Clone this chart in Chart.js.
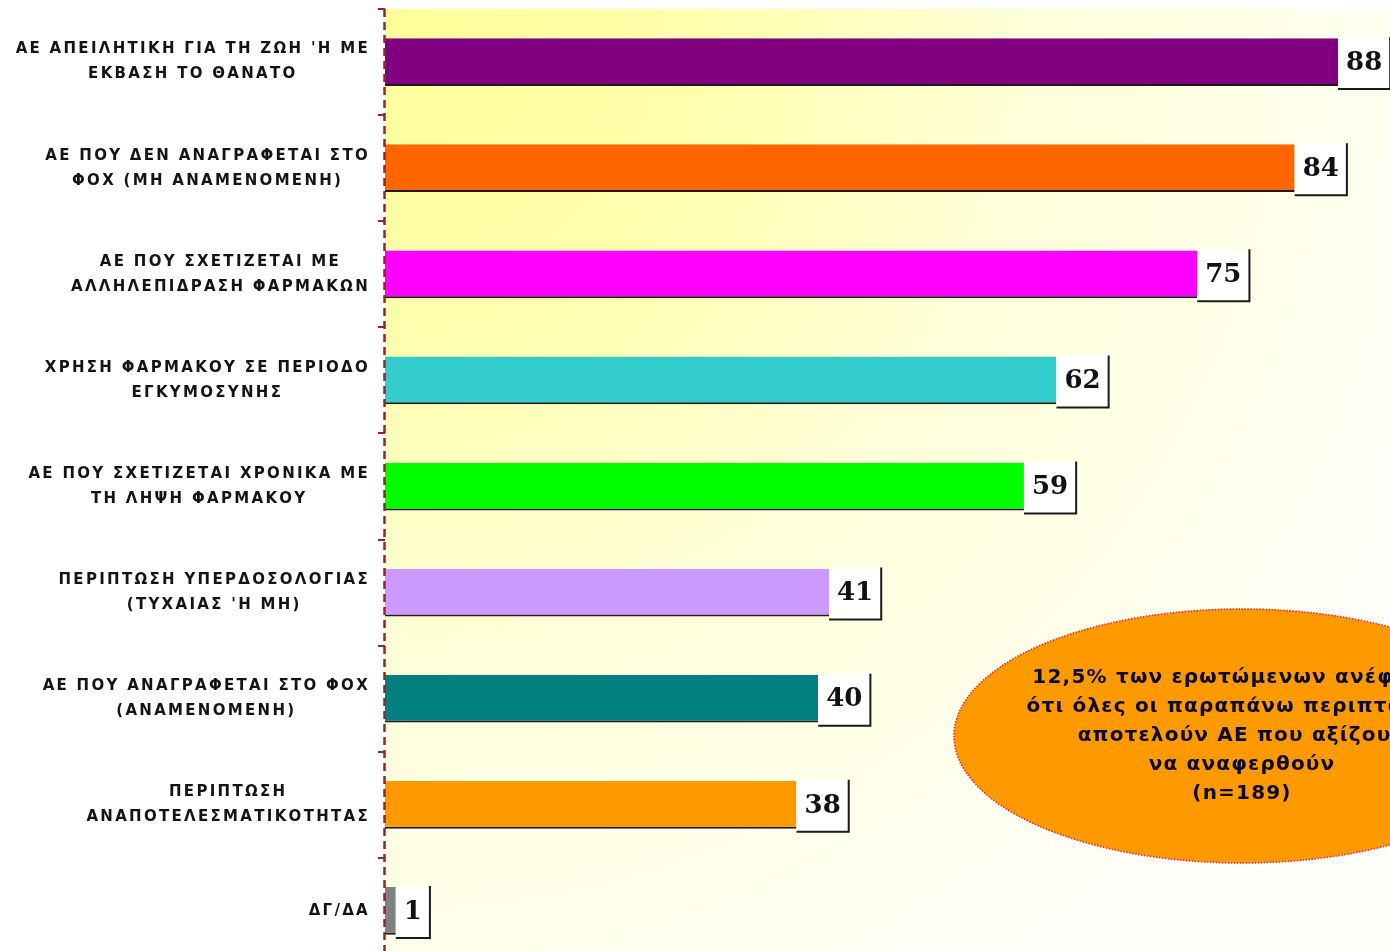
<!DOCTYPE html>
<html lang="el">
<head>
<meta charset="utf-8">
<title>Ανεπιθύμητες ενέργειες</title>
<script src="https://cdn.jsdelivr.net/npm/chart.js@4.4.1/dist/chart.umd.min.js"></script>
<style>
    html, body { margin: 0; padding: 0; background: #FFFFFF; overflow: hidden; }
    #wrap { width: 1540px; height: 966px; }
</style>
</head>
<body>
<div id="wrap"><canvas id="chart" width="1540" height="966"></canvas></div>
<script>
// ---- data ----
const categories = [
    ['ΑΕ ΑΠΕΙΛΗΤΙΚΗ ΓΙΑ ΤΗ ΖΩΗ \'Η ΜΕ', 'ΕΚΒΑΣΗ ΤΟ ΘΑΝΑΤΟ'],
    ['ΑΕ ΠΟΥ ΔΕΝ ΑΝΑΓΡΑΦΕΤΑΙ ΣΤΟ', 'ΦΟΧ (ΜΗ ΑΝΑΜΕΝΟΜΕΝΗ)'],
    ['ΑΕ ΠΟΥ ΣΧΕΤΙΖΕΤΑΙ ΜΕ', 'ΑΛΛΗΛΕΠΙΔΡΑΣΗ ΦΑΡΜΑΚΩΝ'],
    ['ΧΡΗΣΗ ΦΑΡΜΑΚΟΥ ΣΕ ΠΕΡΙΟΔΟ', 'ΕΓΚΥΜΟΣΥΝΗΣ'],
    ['ΑΕ ΠΟΥ ΣΧΕΤΙΖΕΤΑΙ ΧΡΟΝΙΚΑ ΜΕ', 'ΤΗ ΛΗΨΗ ΦΑΡΜΑΚΟΥ'],
    ['ΠΕΡΙΠΤΩΣΗ ΥΠΕΡΔΟΣΟΛΟΓΙΑΣ', '(ΤΥΧΑΙΑΣ \'Η ΜΗ)'],
    ['ΑΕ ΠΟΥ ΑΝΑΓΡΑΦΕΤΑΙ ΣΤΟ ΦΟΧ', '(ΑΝΑΜΕΝΟΜΕΝΗ)'],
    ['ΠΕΡΙΠΤΩΣΗ', 'ΑΝΑΠΟΤΕΛΕΣΜΑΤΙΚΟΤΗΤΑΣ'],
    ['ΔΓ/ΔΑ'],
];
const values = [88, 84, 75, 62, 59, 41, 40, 38, 1];
const barColors = ['#800080', '#FF6600', '#FF00FF', '#33CCCC', '#00FF00', '#CC99FF', '#008080', '#FF9900', '#808080'];
const noteLines = [
    '12,5% των ερωτώμενων ανέφεραν',
    'ότι όλες οι παραπάνω περιπτώσεις',
    'αποτελούν ΑΕ που αξίζουν',
    'να αναφερθούν',
    '(n=189)',
];

const AXIS_RED = '#962626';

// yellow fade behind the bars
const plotBackground = {
    id: 'plotBackground',
    beforeDraw(chart) {
        const { ctx, chartArea: a } = chart;
        const g = ctx.createRadialGradient(a.left, a.top, 0, a.left, a.top, 1150);
        g.addColorStop(0, '#FFFF99');
        g.addColorStop(0.3, '#FFFFB0');
        g.addColorStop(0.55, '#FFFFD8');
        g.addColorStop(1, '#FFFFFA');
        ctx.save();
        ctx.fillStyle = g;
        ctx.fillRect(a.left, a.top, a.right - a.left, a.bottom - a.top);
        ctx.restore();
    },
};

// dashed axis line (scale border can't be dashed in v4)
const dashedAxis = {
    id: 'dashedAxis',
    afterDatasetsDraw(chart) {
        const { ctx, chartArea: a } = chart;
        ctx.save();
        ctx.strokeStyle = AXIS_RED;
        ctx.lineWidth = 2.5;
        ctx.setLineDash([8, 5]);
        ctx.beginPath();
        ctx.moveTo(a.left - 0.5, a.top);
        ctx.lineTo(a.left - 0.5, a.bottom);
        ctx.stroke();
        ctx.restore();
    },
};

// centred multi-line category labels, right edge at the axis
const categoryLabels = {
    id: 'categoryLabels',
    afterDraw(chart) {
        const { ctx } = chart;
        const y = chart.scales.y;
        const right = y.right - 15;
        ctx.save();
        ctx.font = 'bold 15px "DejaVu Sans"';
        ctx.letterSpacing = '2.3px';
        ctx.fillStyle = '#141414';
        ctx.textAlign = 'center';
        ctx.textBaseline = 'middle';
        categories.forEach((lines, i) => {
            const cy = y.getPixelForValue(i);
            const maxW = Math.max(...lines.map(l => ctx.measureText(l).width));
            const cx = right - maxW / 2;
            lines.forEach((l, k) => {
                ctx.fillText(l, cx, cy + (k - (lines.length - 1) / 2) * 25);
            });
        });
        ctx.restore();
    },
};

// white value boxes with a dark drop edge
const valueBoxes = {
    id: 'valueBoxes',
    afterDatasetsDraw(chart) {
        const { ctx } = chart;
        const meta = chart.getDatasetMeta(0);
        ctx.save();
        ctx.font = 'bold 26px "DejaVu Serif"';
        ctx.textAlign = 'left';
        ctx.textBaseline = 'middle';
        meta.data.forEach((bar, i) => {
            const txt = String(values[i]);
            const w = ctx.measureText(txt).width + 16;
            const h = 52;
            const x = bar.x;
            const top = bar.y - 25;
            ctx.fillStyle = '#FFFFFF';
            ctx.fillRect(x, top, w, h);
            ctx.strokeStyle = '#1A1A1A';
            ctx.lineWidth = 2;
            ctx.beginPath();
            ctx.moveTo(x, top + h);
            ctx.lineTo(x + w, top + h);
            ctx.lineTo(x + w, top);
            ctx.stroke();
            ctx.fillStyle = '#111111';
            ctx.fillText(txt, x + 8, bar.y + 1);
        });
        ctx.restore();
    },
};

// orange note bubble, partly off the page on the right
const noteBubble = {
    id: 'noteBubble',
    afterDraw(chart) {
        const { ctx } = chart;
        const cx = 1242, cy = 736, rx = 288, ry = 127;
        ctx.save();
        ctx.beginPath();
        ctx.ellipse(cx, cy, rx, ry, 0, 0, Math.PI * 2);
        ctx.fillStyle = '#FF9900';
        ctx.fill();
        ctx.setLineDash([1.5, 1.5]);
        ctx.strokeStyle = '#FF1A1A';
        ctx.lineWidth = 1.5;
        ctx.stroke();
        ctx.setLineDash([]);
        ctx.font = 'bold 20px "DejaVu Sans"';
        ctx.letterSpacing = '1.2px';
        ctx.fillStyle = '#0B0B30';
        ctx.textAlign = 'center';
        ctx.textBaseline = 'middle';
        noteLines.forEach((l, k) => {
            ctx.fillText(l, cx, cy + (k - (noteLines.length - 1) / 2) * 29);
        });
        ctx.restore();
    },
};

new Chart(document.getElementById('chart'), {
    type: 'bar',
    data: {
        labels: categories,
        datasets: [{
            data: values,
            backgroundColor: barColors,
            borderColor: '#1A1A1A',
            borderWidth: { top: 0, right: 0, bottom: 2, left: 0 },
            borderSkipped: false,
            barPercentage: 0.45,
            categoryPercentage: 1,
        }],
    },
    options: {
        indexAxis: 'y',
        responsive: false,
        animation: false,
        layout: { padding: { top: 9, left: 0, right: 72, bottom: 2 } },
        plugins: {
            legend: { display: false },
            tooltip: { enabled: false },
        },
        scales: {
            x: { display: false, min: 0, max: 100 },
            y: {
                ticks: { display: false },
                grid: {
                    drawOnChartArea: false,
                    drawTicks: true,
                    tickLength: 7,
                    color: AXIS_RED,
                    lineWidth: 2,
                    offset: true,
                },
                border: { display: false },
                afterFit: (s) => { s.width = 385; },
            },
        },
    },
    plugins: [plotBackground, valueBoxes, dashedAxis, categoryLabels, noteBubble],
});
</script>
</body>
</html>
